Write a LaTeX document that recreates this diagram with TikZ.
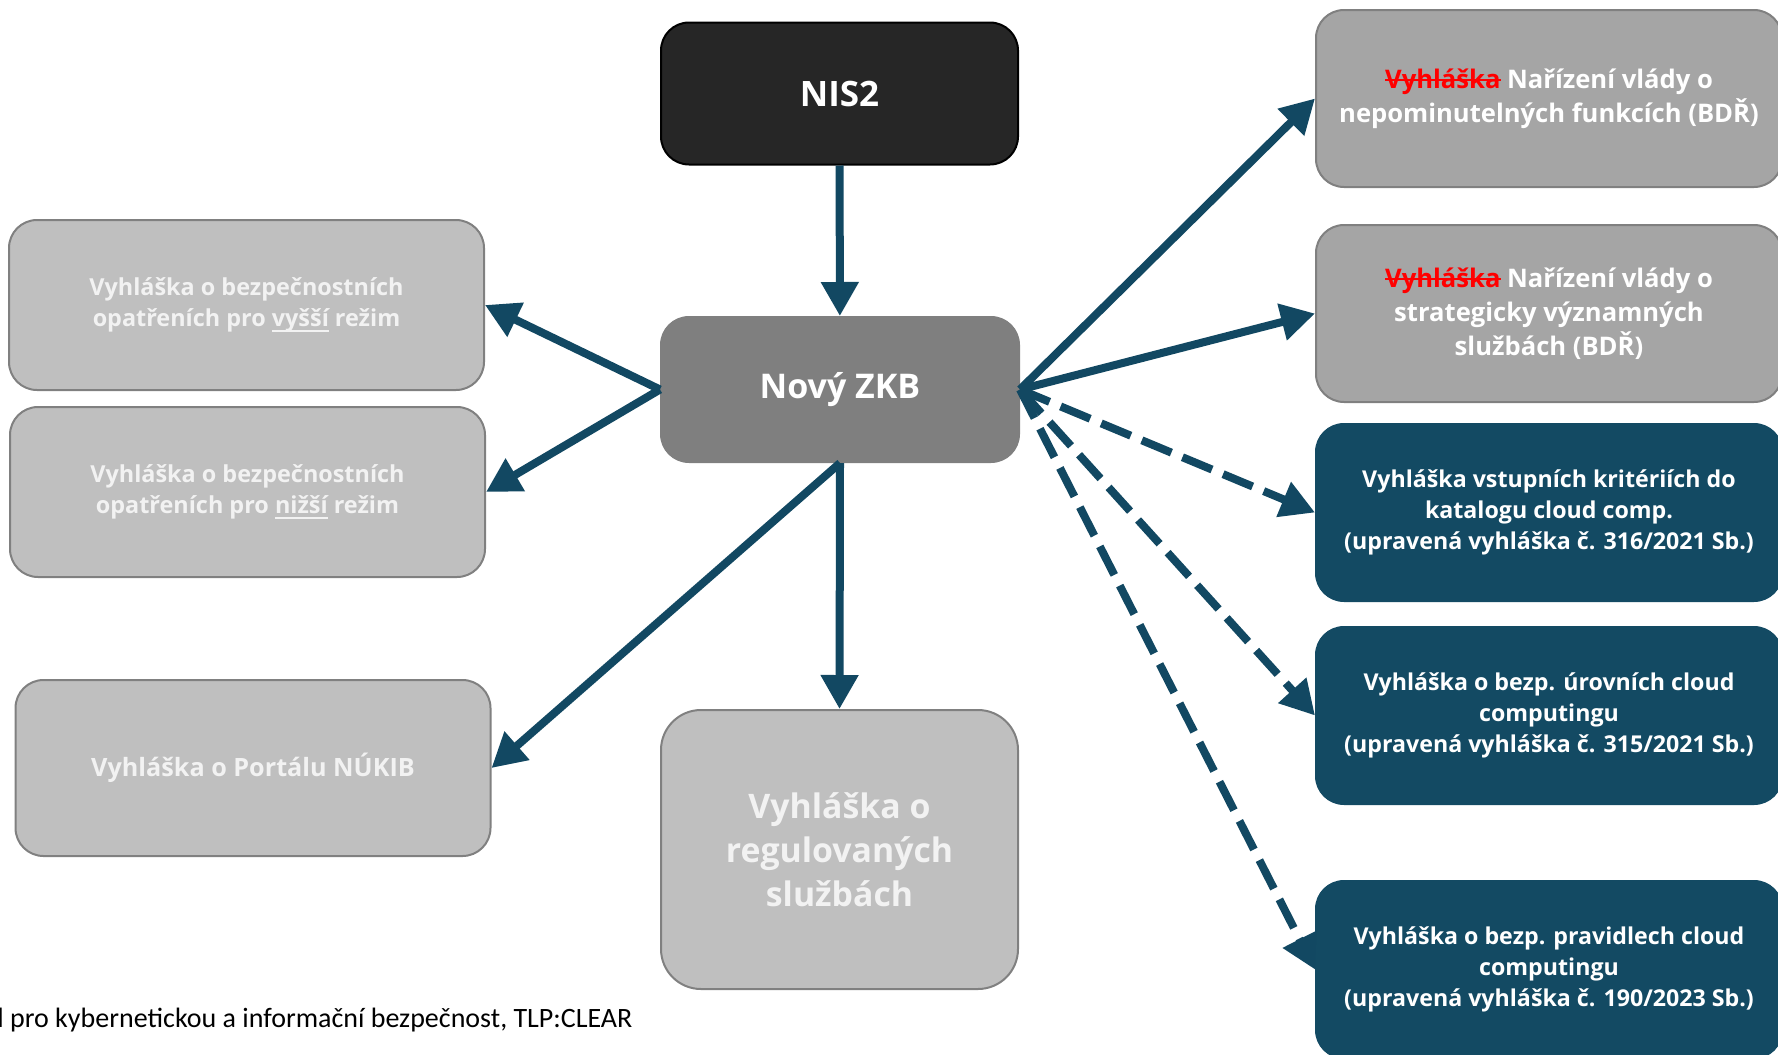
\documentclass[tikz,border=0pt]{standalone}
\usepackage{fontspec}
\setmainfont{Open Sans}
\newfontfamily\footfont{Carlito}
\usetikzlibrary{arrows.meta}
\definecolor{sipka}{HTML}{124862}
\definecolor{tmava}{HTML}{134A63}
\definecolor{svetla}{HTML}{BFBFBF}
\definecolor{stredni}{HTML}{A5A5A5}
\definecolor{okraj}{HTML}{808080}
\definecolor{cerna}{HTML}{262626}
\definecolor{seda}{HTML}{7F7F7F}
% preskrtnute a podtrzene slovo
\newcommand{\skrt}[1]{{\color{red}\setbox0\hbox{#1}\rlap{\rule[0.3em]{\wd0}{0.08em}}\box0}}
\newcommand{\podtrh}[1]{{\setbox0\hbox{#1}\rlap{\rule[-0.2em]{\wd0}{0.05em}}\box0}}

\begin{document}
\begin{tikzpicture}[x=0.5pt,y=-0.5pt,>={Triangle[length=17pt,width=18pt]},
    box/.style={rounded corners=14pt,draw=okraj,line width=1pt,align=center,
      text=white,font=\bfseries\fontsize{11.7}{15.8}\selectfont},
    vlevo/.style={box,fill=svetla,text=white!95!black,minimum width=237.5pt,minimum height=85pt},
    vpravo/.style={box,fill=stredni,minimum width=233pt,minimum height=88.5pt,
      font=\bfseries\fontsize{12.8}{16.9}\selectfont},
    cloud/.style={vpravo,fill=tmava,draw=tmava,font=\bfseries\fontsize{11.6}{15.5}\selectfont},
    spoj/.style={->,draw=sipka,line width=4pt},
    carkovane/.style={spoj,dash pattern=on 16pt off 6pt}]
    \useasboundingbox (0,0) rectangle (1778,1055);
    \clip (0,0) rectangle (1778,1055);

    \node[box,fill=cerna,draw=black,minimum width=178.5pt,minimum height=71pt,
      font=\bfseries\fontsize{17.5}{22}\selectfont] (nis) at (839.5,93.5) {NIS2};
    \node[box,fill=seda,draw=seda,minimum width=179pt,minimum height=72.5pt,
      font=\bfseries\fontsize{17}{22}\selectfont] (zkb) at (840,389.5) {Nový ZKB};

    \node[vlevo] (vyssi) at (246.5,305) {Vyhláška o bezpečnostních\\ opatřeních pro \podtrh{vyšší} režim};
    \node[vlevo] (nizsi) at (247.5,492) {Vyhláška o bezpečnostních\\ opatřeních pro \podtrh{nižší} režim};
    \node[vlevo,minimum height=88pt,font=\bfseries\fontsize{12.6}{15.8}\selectfont] (portal) at (253,768) {Vyhláška o Portálu NÚKIB};
    \node[box,fill=svetla,text=white!95!black,rounded corners=20pt,minimum width=178.5pt,minimum height=139.5pt,
      font=\bfseries\fontsize{16.9}{22}\selectfont] (reg) at (839.5,849.5) {Vyhláška o\\ regulovaných\\ službách};

    \node[vpravo] (funkce) at (1549,98.5) {\skrt{Vyhláška} Nařízení vlády o\\ nepominutelných funkcích (BDŘ)};
    \node[vpravo] (sluzby) at (1549,313.5) {\skrt{Vyhláška} Nařízení vlády o\\ strategicky významných\\ službách (BDŘ)};
    \node[cloud] (katalog) at (1549,512.5) {Vyhláška vstupních kritériích do\\ katalogu cloud comp.\\ (upravená vyhláška č. 316/2021 Sb.)};
    \node[cloud] (urovne) at (1549,715.5) {Vyhláška o bezp. úrovních cloud\\ computingu\\ (upravená vyhláška č. 315/2021 Sb.)};
    \node[cloud] (pravidla) at (1549,969.5) {Vyhláška o bezp. pravidlech cloud\\ computingu\\ (upravená vyhláška č. 190/2023 Sb.)};

    \draw[spoj] (nis) -- (zkb);
    \draw[spoj] (zkb.west) -- (vyssi.east);
    \draw[spoj] (zkb.west) -- (nizsi.east);
    \draw[spoj] (zkb.south) -- (portal.east);
    \draw[spoj] (zkb.south) -- (reg.north);
    \draw[spoj] (zkb.east) -- (funkce.west);
    \draw[spoj] (zkb.east) -- (sluzby.west);
    \draw[carkovane] (zkb.east) -- (katalog.west);
    \draw[carkovane] (zkb.east) -- (urovne.west);
    \draw[carkovane] (zkb.east) -- (pravidla.west);

    \node[anchor=base west,inner sep=0pt,font=\footfont\fontsize{14}{17}\selectfont] (paticka) at (-3,1027)
      {l pro kybernetickou a informační bezpečnost, TLP:CLEAR};
\end{tikzpicture}
\end{document}
